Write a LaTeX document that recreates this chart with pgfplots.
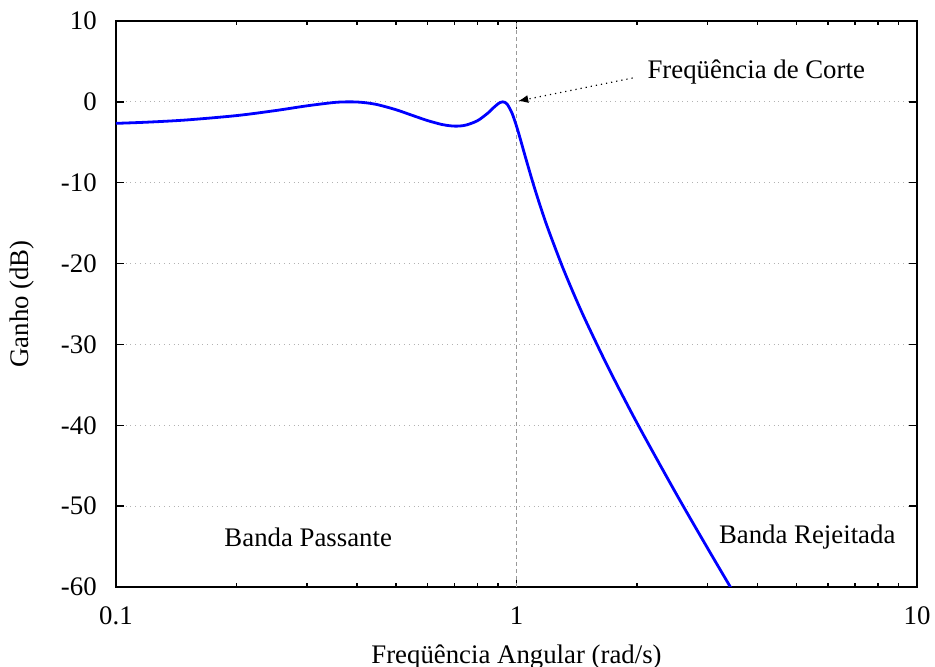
\documentclass[border=0pt]{standalone}
\usepackage{fontspec}
\setmainfont{Liberation Serif}
\usepackage{pgfplots}
\pgfplotsset{compat=1.18}
\usetikzlibrary{arrows.meta}
\begin{document}
\fontsize{13.4}{16}\selectfont
\begin{tikzpicture}
\begin{axis}[
  scale only axis,
  width=400.5pt, height=283pt,
  xmode=log, log basis x=10,
  xmin=0.1, xmax=10, ymin=-60, ymax=10,
  xtick={0.1,1,10}, xticklabels={0.1,1,10},
  ytick={-60,-50,-40,-30,-20,-10,0,10},
  yticklabels={-60,-50,-40,-30,-20,-10,0,10},
  minor xtick={0.2,0.3,0.4,0.5,0.6,0.7,0.8,0.9,2,3,4,5,6,7,8,9},
  tick align=inside,
  major tick length=4pt, minor tick length=2pt,
  tick style={black, line width=0.7pt},
  axis line style={line width=0.8pt},
  ymajorgrids,
  major grid style={gray!60, dotted, line width=0.6pt},
  xlabel={Freqüência Angular (rad/s)},
  ylabel={Ganho (dB)},
  xticklabel style={yshift=-5pt},
  yticklabel style={xshift=-5pt},
  xlabel style={yshift=-1pt},
  ylabel style={yshift=4pt},
  clip=true,
]
\addplot[gray!80, dash pattern=on 2pt off 1.5pt, line width=0.9pt, forget plot] coordinates {(1,-60) (1,10)};
\addplot[blue, line width=1.4pt, smooth] coordinates {
(0.1,-2.66) (0.12,-2.51) (0.15,-2.24) (0.2,-1.70) (0.25,-1.08) (0.3,-0.49)
(0.35,-0.08) (0.375,-0.005) (0.383,0) (0.4,-0.02) (0.42,-0.11) (0.45,-0.35)
(0.5,-0.97) (0.55,-1.68) (0.6,-2.32) (0.65,-2.79) (0.68,-2.95) (0.7,-3.00)
(0.72,-2.99) (0.75,-2.86) (0.8,-2.32) (0.85,-1.35) (0.875,-0.75) (0.9,-0.23)
(0.91,-0.08) (0.924,0) (0.935,-0.06) (0.95,-0.36) (0.975,-1.42) (1.0,-3.00)
(1.025,-4.80) (1.05,-6.64) (1.1,-10.07) (1.15,-13.09) (1.2,-15.76) (1.3,-20.30)
(1.4,-24.11) (1.5,-27.41) (1.7,-32.99) (2.0,-39.72) (2.5,-48.40) (3.0,-55.20)
(3.4,-59.78) (3.5,-60.84)
};
\node[anchor=west, inner sep=0pt] at (axis cs:2.12,3.7) {Freqüência de Corte};
\draw[-{Latex[length=5pt,width=4pt]}, dotted, line width=0.6pt] (axis cs:1.95,2.95) -- (axis cs:1.01,0.1);
\node[inner sep=0pt] at (axis cs:0.302,-53.8) {Banda Passante};
\node[inner sep=0pt] at (axis cs:5.32,-53.8) {Banda Rejeitada};
\end{axis}
\pgfresetboundingbox
\path (-58pt,-40pt) rectangle (409.5pt,293.5pt);
\end{tikzpicture}
\end{document}
